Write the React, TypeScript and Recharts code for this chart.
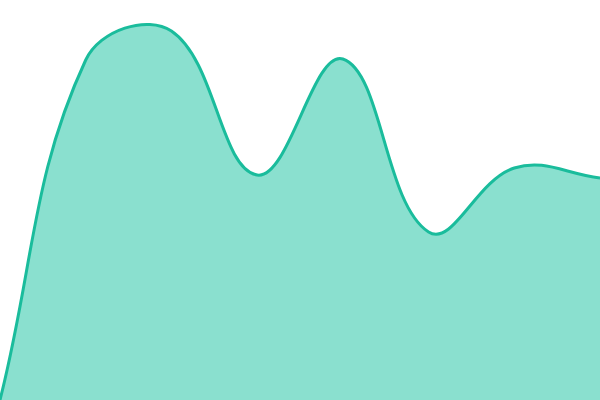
import React from "react";
import { AreaChart, Area, XAxis, YAxis } from "recharts";

const categories = ["A", "B", "C", "D", "E", "F", "G", "H"];
const values = [0, 170, 184.5, 112.5, 170.5, 84, 116, 111];

const data = categories.map((c, i) => ({ name: c, value: values[i] }));

const TENSION = 0.4;

function drawSmooth(ctx: any, pts: [number, number][], line: number) {
  if (!pts.length) return;
  const n = pts.length;
  const [x0, y0] = pts[0];
  if (line) ctx.lineTo(x0, y0);
  else ctx.moveTo(x0, y0);
  const prevCp: [number, number][] = [];
  const nextCp: [number, number][] = [];
  for (let i = 0; i < n; i++) {
    const cur = pts[i];
    const prev = i === 0 ? cur : pts[i - 1];
    const next = i === n - 1 ? cur : pts[i + 1];
    const d01 = Math.hypot(cur[0] - prev[0], cur[1] - prev[1]);
    const d12 = Math.hypot(next[0] - cur[0], next[1] - cur[1]);
    let s01 = d01 / (d01 + d12);
    let s12 = d12 / (d01 + d12);
    if (isNaN(s01)) s01 = 0;
    if (isNaN(s12)) s12 = 0;
    const fa = TENSION * s01;
    const fb = TENSION * s12;
    prevCp.push([cur[0] - fa * (next[0] - prev[0]), cur[1] - fa * (next[1] - prev[1])]);
    nextCp.push([cur[0] + fb * (next[0] - prev[0]), cur[1] + fb * (next[1] - prev[1])]);
  }
  for (let i = 1; i < n; i++) {
    const a = nextCp[i - 1];
    const b = prevCp[i];
    ctx.bezierCurveTo(a[0], a[1], b[0], b[1], pts[i][0], pts[i][1]);
  }
}

function smoothCurve(context: any) {
  let pts: [number, number][] = [];
  let line = NaN;
  return {
    areaStart() {
      line = 0;
    },
    areaEnd() {
      line = NaN;
    },
    lineStart() {
      pts = [];
    },
    lineEnd() {
      drawSmooth(context, pts, line);
      if (line || (line !== 0 && pts.length === 1)) context.closePath();
      line = 1 - line;
    },
    point(x: number, y: number) {
      pts.push([+x, +y]);
    },
  };
}

export default function App() {
  return (
    <div style={{ position: "fixed", left: 0, top: 0, width: 600, height: 400, background: "#fff" }}>
      <AreaChart width={600} height={400} data={data} margin={{ top: 0, right: 0, bottom: 0, left: 0 }}>
        <XAxis dataKey="name" hide />
        <YAxis hide domain={[0, 200]} />
        <Area
          type={smoothCurve as any}
          dataKey="value"
          stroke="#1abc9c"
          strokeWidth={3}
          fill="#8ae0cf"
          fillOpacity={1}
          isAnimationActive={false}
          dot={false}
          activeDot={false}
        />
      </AreaChart>
    </div>
  );
}
